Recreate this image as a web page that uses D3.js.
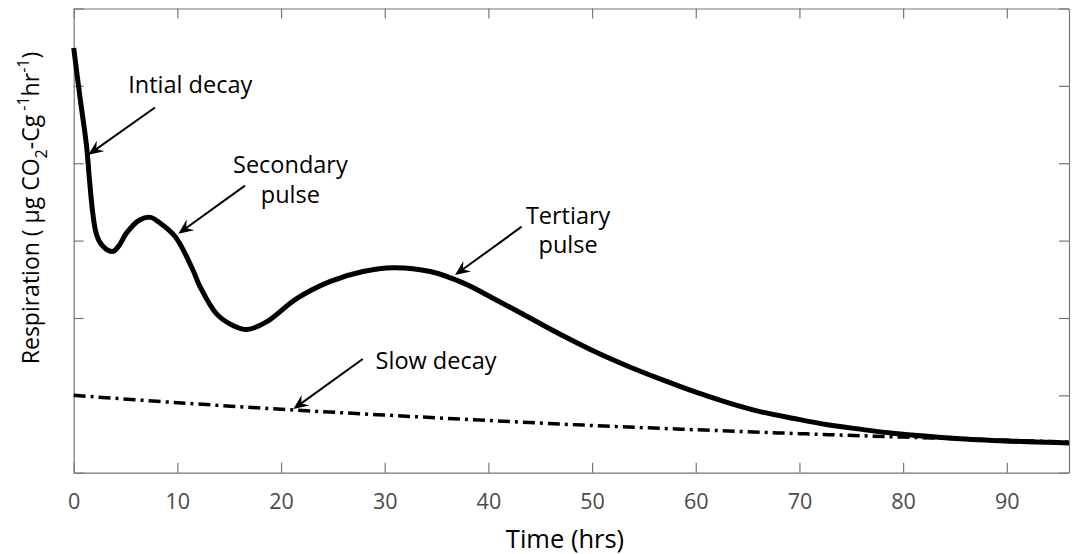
<!DOCTYPE html>
<html>
<head>
<meta charset="utf-8">
<script src="https://cdn.jsdelivr.net/npm/d3@7"></script>
<style>
  body { margin: 0; background: #fff; }
  text { font-family: "Open Sans", "Noto Sans", sans-serif; }
</style>
</head>
<body>
<div id="chart"></div>
<script>
// solid curve: respiration pulses
const timeHrs = [0, 0.6, 1.25, 1.5, 1.8, 2.1, 2.4, 2.8, 3.3, 3.8, 4.4, 5.1, 6.4, 7.4, 8.3, 9.8, 11.5, 12.2, 13.8, 15.4, 16.7,
  18.6, 21.5, 24.7, 27.9, 30.8, 34.4, 37.6, 40.8, 44.0, 47.2, 50.5, 53.4, 56.6, 59.8, 63, 66.2, 69.5, 72.7,
  76, 79, 85.5, 92, 96]
const respiration = [5.49, 4.86, 4.21, 3.82, 3.40, 3.13, 3.01, 2.93, 2.875, 2.86, 2.94, 3.10, 3.27, 3.30, 3.23, 3.05, 2.62, 2.40, 2.05, 1.90, 1.85,
  1.95, 2.25, 2.47, 2.60, 2.65, 2.60, 2.45, 2.23, 2.00, 1.77, 1.55, 1.38, 1.21, 1.05, 0.91, 0.79, 0.70, 0.62,
  0.56, 0.51, 0.44, 0.40, 0.385]

// dash-dot curve: slow decay
const slowTime = [0, 10, 20, 30, 40, 50, 60, 70, 80, 90, 96]
const slowDecay = [1.00, 0.905, 0.82, 0.745, 0.675, 0.61, 0.555, 0.505, 0.46, 0.42, 0.395]

const xTicks = [0, 10, 20, 30, 40, 50, 60, 70, 80, 90]
const yTicks = [0, 1, 2, 3, 4, 5, 6]

// annotations, in data units
const noteLines = [["Intial decay"], ["Secondary", "pulse"], ["Tertiary", "pulse"], ["Slow decay"]]
const noteAnchor = [[11.24, 4.91], [20.9, 3.87], [47.69, 3.22], [34.95, 1.336]]
const arrowFrom = [[7.84, 4.72], [16.52, 3.71], [43.21, 3.18], [27.88, 1.47]]
const arrowTo = [[1.41, 4.11], [10.09, 3.09], [36.78, 2.555], [21.18, 0.823]]

const width = 1077, height = 554
const margin = {top: 8.5, right: 8, bottom: 81.3, left: 73.7}

const svg = d3.select("#chart").append("svg")
    .attr("width", width)
    .attr("height", height)

const x = d3.scaleLinear().domain([0, 96]).range([margin.left, width - margin.right])
const y = d3.scaleLinear().domain([0, 6]).range([height - margin.bottom, margin.top])

const axisColor = "#777"
const tickLen = 10

// axes with inward ticks on all four sides
const gx = svg.append("g")
    .attr("transform", `translate(0,${y(0)})`)
    .call(d3.axisBottom(x).tickValues(xTicks).tickSizeInner(-tickLen).tickSizeOuter(0).tickPadding(21))
const gxTop = svg.append("g")
    .attr("transform", `translate(0,${y(6)})`)
    .call(d3.axisTop(x).tickValues(xTicks).tickSizeInner(-tickLen).tickSizeOuter(0).tickFormat(""))
const gy = svg.append("g")
    .attr("transform", `translate(${x(0)},0)`)
    .call(d3.axisLeft(y).tickValues(yTicks).tickSizeInner(-tickLen).tickSizeOuter(0).tickFormat(""))
const gyRight = svg.append("g")
    .attr("transform", `translate(${x(96)},0)`)
    .call(d3.axisRight(y).tickValues(yTicks).tickSizeInner(-tickLen).tickSizeOuter(0).tickFormat(""))

;[gx, gxTop, gy, gyRight].forEach(g => {
    g.select(".domain").attr("stroke", axisColor).attr("stroke-width", 1.2)
    g.selectAll(".tick line").attr("stroke", axisColor).attr("stroke-width", 1.2)
})
gx.selectAll(".tick text")
    .attr("fill", "#4a4a4a")
    .attr("font-size", 21.5)
    .attr("font-family", "'Open Sans', sans-serif")

// axis titles
svg.append("text")
    .attr("x", 565)
    .attr("y", 548)
    .attr("text-anchor", "middle")
    .attr("font-size", 25.5)
    .text("Time (hrs)")

const yTitle = svg.append("text")
    .attr("transform", `translate(39,208) rotate(-90)`)
    .attr("text-anchor", "middle")
    .attr("font-size", 23)
yTitle.append("tspan").text("Respiration (  μg CO")
yTitle.append("tspan").attr("dy", 8).attr("font-size", 16).text("2")
yTitle.append("tspan").attr("dy", -8).text("-Cg")
yTitle.append("tspan").attr("dy", -10).attr("font-size", 16).text(" -1")
yTitle.append("tspan").attr("dy", 10).text("hr")
yTitle.append("tspan").attr("dy", -10).attr("font-size", 16).text("-1")
yTitle.append("tspan").attr("dy", 10).text(")")

// curves
const solidLine = d3.line()
    .x((d, i) => x(timeHrs[i]))
    .y(d => y(d))
    .curve(d3.curveCatmullRom.alpha(0.5))

const slowLine = d3.line()
    .x((d, i) => x(slowTime[i]))
    .y(d => y(d))
    .curve(d3.curveCatmullRom.alpha(0.5))

svg.append("path")
    .attr("d", slowLine(slowDecay))
    .attr("fill", "none")
    .attr("stroke", "#000")
    .attr("stroke-width", 3.5)
    .attr("stroke-dasharray", "12,5,3,5")

svg.append("path")
    .attr("d", solidLine(respiration))
    .attr("fill", "none")
    .attr("stroke", "#000")
    .attr("stroke-width", 5)
    .attr("stroke-linejoin", "round")

// annotation arrows
const headLen = 15, headHalf = 6.5
noteLines.forEach((lines, i) => {
    const x0 = x(arrowFrom[i][0]), y0 = y(arrowFrom[i][1])
    const x1 = x(arrowTo[i][0]), y1 = y(arrowTo[i][1])
    const ang = Math.atan2(y1 - y0, x1 - x0)
    const ca = Math.cos(ang), sa = Math.sin(ang)
    const bx = x1 - headLen * ca, by = y1 - headLen * sa
    const nx = x1 - headLen * 0.65 * ca, ny = y1 - headLen * 0.65 * sa

    svg.append("line")
        .attr("x1", x0).attr("y1", y0)
        .attr("x2", nx).attr("y2", ny)
        .attr("stroke", "#000")
        .attr("stroke-width", 2)

    svg.append("path")
        .attr("d", `M${x1},${y1} L${bx - headHalf * sa},${by + headHalf * ca} L${nx},${ny} L${bx + headHalf * sa},${by - headHalf * ca} Z`)
        .attr("fill", "#000")

    const t = svg.append("text")
        .attr("x", x(noteAnchor[i][0]))
        .attr("y", y(noteAnchor[i][1]))
        .attr("text-anchor", "middle")
        .attr("font-size", 23.5)
    lines.forEach((s, k) => {
        t.append("tspan")
            .attr("x", x(noteAnchor[i][0]))
            .attr("dy", k === 0 ? 0 : 29.5)
            .text(s)
    })
})
</script>
</body>
</html>
